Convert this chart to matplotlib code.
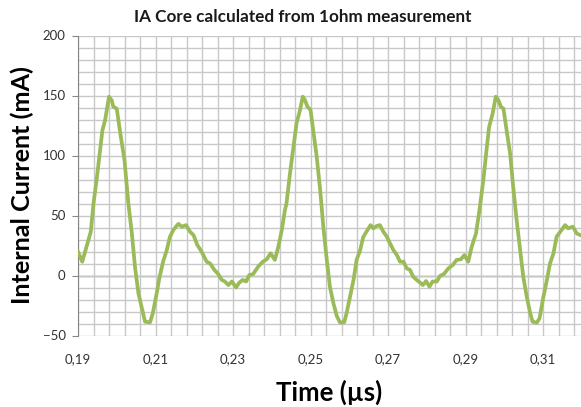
import numpy as np
import matplotlib
matplotlib.use("Agg")
import matplotlib.pyplot as plt
from matplotlib.ticker import FuncFormatter

# values
time_us = [
    0.1900, 0.1911, 0.1927, 0.1933, 0.1940, 0.1948, 0.1957, 0.1963, 0.1970, 0.1980,
    0.1987, 0.1991, 0.2000, 0.2008, 0.2020, 0.2030, 0.2039, 0.2047, 0.2056, 0.2064,
    0.2073, 0.2086, 0.2093, 0.2103, 0.2110, 0.2120, 0.2129, 0.2137, 0.2146, 0.2159,
    0.2168, 0.2179, 0.2189, 0.2198, 0.2208, 0.2219, 0.2232, 0.2241, 0.2252, 0.2262,
    0.2271, 0.2279, 0.2288, 0.2297, 0.2308, 0.2316, 0.2325, 0.2334, 0.2342, 0.2352,
    0.2365, 0.2377, 0.2387, 0.2397, 0.2408, 0.2417, 0.2426, 0.2434,
    0.2438, 0.2447, 0.2456, 0.2464, 0.2473, 0.2480, 0.2486, 0.2492, 0.2500, 0.2507,
    0.2516, 0.2525, 0.2533, 0.2542, 0.2550, 0.2559, 0.2568, 0.2576, 0.2587, 0.2593,
    0.2602, 0.2611, 0.2619, 0.2628, 0.2636, 0.2647, 0.2655, 0.2662, 0.2671, 0.2679,
    0.2688, 0.2697, 0.2705, 0.2714, 0.2723, 0.2731, 0.2740, 0.2748, 0.2757, 0.2765,
    0.2774, 0.2783, 0.2790, 0.2798, 0.2807, 0.2815, 0.2826, 0.2834, 0.2844, 0.2856,
    0.2867, 0.2877, 0.2888, 0.2897, 0.2907, 0.2916, 0.2927, 0.2936,
    0.2946, 0.2955, 0.2961, 0.2970, 0.2978, 0.2985, 0.2991, 0.2998, 0.3006, 0.3015,
    0.3023, 0.3032, 0.3041, 0.3049, 0.3058, 0.3067, 0.3073, 0.3084, 0.3091, 0.3101,
    0.3110, 0.3118, 0.3127, 0.3135, 0.3148, 0.3157, 0.3165, 0.3177, 0.3187, 0.3196,
]
current_ma = [
    19.8, 11.5, 29.6, 36.5, 60, 79.6, 104.6, 121, 129.6, 149,
    146, 140.7, 139, 121, 96, 60, 35, 7.4, -15, -26,
    -38.5, -39, -31.5, -15, -2, 12, 21, 32, 38, 43,
    40.7, 42, 36.5, 33.7, 25.4, 19.8, 11.5, 10, 4.6, 1.2,
    -3.7, -5, -8, -5, -10, -6, -3.7, -5, 0.4, 1.2,
    7.4, 11.5, 13.5, 18.5, 13, 24, 38, 54.6,
    60, 85, 107, 127, 138, 149, 146, 140.7, 138, 121,
    99, 71, 40.7, 13, -9.3, -23, -34, -39, -39, -31.5,
    -17.7, -3.7, 13, 21, 32, 38, 42, 39.3, 41.3, 42,
    36.5, 32.3, 26.8, 21.2, 17, 11.5, 11.5, 6, 4.6, -1,
    -3.7, -6, -8, -4.6, -9.3, -5, -5, -0.4, 1.2, 6,
    8.7, 13, 13.5, 17, 11.5, 24, 35, 54.6,
    79.6, 107, 124, 135, 149, 146, 140.7, 139, 121, 101.8,
    74, 46, 21, -1, -17.7, -31.5, -38.5, -39.3, -35.7, -17.7,
    -3.7, 10, 18.5, 32.3, 38, 42, 39.3, 40.7, 35, 33.7,
]
x_ticks = [0.19, 0.21, 0.23, 0.25, 0.27, 0.29, 0.31]
y_ticks = [-50, 0, 50, 100, 150, 200]

plt.rcParams['font.family'] = ['Lato', 'DejaVu Sans']

fig = plt.figure(figsize=(5.81, 4.07), dpi=100)
ax = fig.add_axes([78 / 581, 71.5 / 407, 503 / 581, 300 / 407])

ax.plot(time_us, current_ma, color='#9bbb59', lw=2.7, solid_joinstyle='round', zorder=3)

ax.set_xlim(0.19, 0.3198)
ax.set_ylim(-50, 200)
ax.set_xticks(x_ticks)
ax.set_xticks(np.arange(0.19, 0.3201, 0.004), minor=True)
ax.set_yticks(y_ticks)
ax.set_yticks(np.arange(-50, 201, 10), minor=True)
ax.xaxis.set_major_formatter(FuncFormatter(lambda v, p: f"{v:.2f}".replace('.', ',')))

ax.grid(True, which='both', color='#c8c8c8', lw=1.0, zorder=0)
ax.axhline(0, color='#868686', lw=1.0, zorder=1)
for s in ['top', 'right', 'bottom']:
    ax.spines[s].set_visible(False)
ax.spines['left'].set_color('#868686')
ax.tick_params(axis='x', which='both', length=0, pad=13, labelsize=9.5, labelcolor='#333333')
ax.tick_params(axis='y', which='major', length=4, color='#868686', pad=5,
               labelsize=9.5, labelcolor='#333333')
ax.tick_params(axis='y', which='minor', length=0)

fig.text(303 / 581, 1 - 17 / 407, 'IA Core calculated from 1ohm measurement',
         ha='center', va='center', fontsize=12.3, fontweight='bold', color='#1a1a1a')
fig.text(22 / 581, 1 - 185 / 407, 'Internal Current (mA)', rotation=90,
         ha='center', va='center', fontsize=18.2, fontweight='bold', color='black')
fig.text(329.5 / 581, 1 - 392 / 407, 'Time (µs)', ha='center', va='center',
         fontsize=18.5, fontweight='bold', color='black')

fig.savefig('out.png', dpi=100)
